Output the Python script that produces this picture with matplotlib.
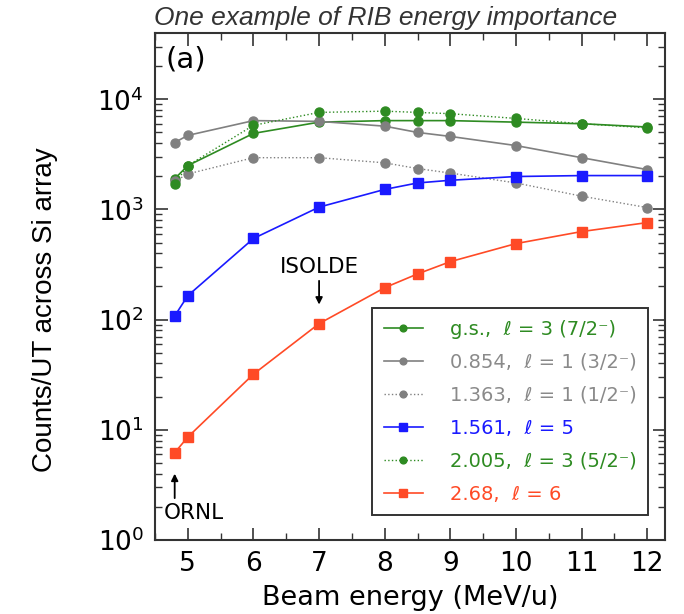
import numpy as np
import matplotlib.pyplot as plt
from matplotlib.ticker import LogLocator, MultipleLocator, NullFormatter

# Beam energies (MeV/u) and counts per UT for each state
energy = [4.8, 5.0, 6, 7, 8, 8.5, 9, 10, 11, 12]
gs_7_2 = [1900, 2500, 4900, 6200, 6400, 6400, 6400, 6200, 6000, 5600]
s0854_3_2 = [4050, 4700, 6400, 6300, 5700, 5000, 4600, 3800, 2950, 2300]
s1363_1_2 = [1800, 2100, 2950, 2950, 2650, 2350, 2140, 1740, 1320, 1040]
s1561_l5 = [108, 165, 545, 1050, 1520, 1740, 1840, 1990, 2030, 2030]
s2005_5_2 = [1700, 2500, 5800, 7600, 7800, 7600, 7400, 6700, 6000, 5500]
s268_l6 = [6.2, 8.6, 32, 92, 195, 260, 336, 490, 630, 760]

green = '#2e8b22'
gray = '#808080'
blue = '#1a1aff'
red = '#ff4a26'

fig = plt.figure(figsize=(6.84, 6.14), dpi=100)
ax = fig.add_axes([0.2266, 0.1205, 0.7456, 0.8255])

ax.plot(energy, gs_7_2, '-o', color=green, lw=1.2, ms=6.5, label='g.s.,  ℓ = 3 (7/2⁻)')
ax.plot(energy, s0854_3_2, '-o', color=gray, lw=1.2, ms=6.5, label='0.854,  ℓ = 1 (3/2⁻)')
ax.plot(energy, s1363_1_2, ':o', color=gray, lw=1.0, ms=6.5, label='1.363,  ℓ = 1 (1/2⁻)')
ax.plot(energy, s1561_l5, '-s', color=blue, lw=1.2, ms=7, label='1.561,  ℓ = 5')
ax.plot(energy, s2005_5_2, ':o', color=green, lw=1.0, ms=6.5, label='2.005,  ℓ = 3 (5/2⁻)')
ax.plot(energy, s268_l6, '-s', color=red, lw=1.2, ms=7, label='2.68,  ℓ = 6')

ax.set_yscale('log')
ax.set_xlim(4.5, 12.27)
ax.set_ylim(1, 10 ** 4.6)
ax.xaxis.set_major_locator(MultipleLocator(1))
ax.xaxis.set_minor_locator(MultipleLocator(0.5))
ax.yaxis.set_major_locator(LogLocator(base=10, numticks=10))
ax.yaxis.set_minor_locator(LogLocator(base=10, subs=np.arange(2, 10), numticks=10))
ax.yaxis.set_minor_formatter(NullFormatter())

ax.tick_params(which='both', direction='in', top=True, right=True, color='#333333')
ax.tick_params(which='major', length=9, width=1.2, labelsize=19, pad=8)
ax.tick_params(which='minor', length=5, width=1.0)
for sp in ax.spines.values():
    sp.set_linewidth(1.5)
    sp.set_color('#333333')

ax.set_xlabel('Beam energy (MeV/u)', fontsize=19.5, labelpad=6)
ax.set_ylabel('Counts/UT across Si array', fontsize=20,
              family=['Liberation Sans', 'DejaVu Sans'])
ax.yaxis.set_label_coords(-0.19, 0.455)

ax.text(0.02, 0.975, '(a)', transform=ax.transAxes, fontsize=21, va='top', ha='left')

ax.annotate('', xy=(7, 137), xytext=(7, 225),
            arrowprops=dict(arrowstyle='-|>', color='black', lw=1.3, shrinkA=0, shrinkB=0))
ax.text(7, 245, 'ISOLDE', ha='center', va='bottom', fontsize=15.5)
ax.annotate('', xy=(4.8, 4.0), xytext=(4.8, 2.4),
            arrowprops=dict(arrowstyle='-|>', color='black', lw=1.3, shrinkA=0, shrinkB=0))
ax.text(4.63, 2.15, 'ORNL', ha='left', va='top', fontsize=15.5)

leg = ax.legend(loc='lower right', bbox_to_anchor=(0.967, 0.049), borderaxespad=0,
                fontsize=14, fancybox=False, edgecolor='#333333', framealpha=1,
                handlelength=2.0, labelspacing=0.72, borderpad=0.6, handletextpad=1.4,
                markerscale=0.75)
leg.get_frame().set_linewidth(1.4)
for txt, col in zip(leg.get_texts(), [green, '#8a8a8a', '#8a8a8a', blue, green, red]):
    txt.set_color(col)

fig.text(0.225, 0.97, 'One example of RIB energy importance', fontsize=19, style='italic',
         family='Liberation Sans', color='#333333', ha='left', va='center')

fig.savefig('out.png', dpi=100)
